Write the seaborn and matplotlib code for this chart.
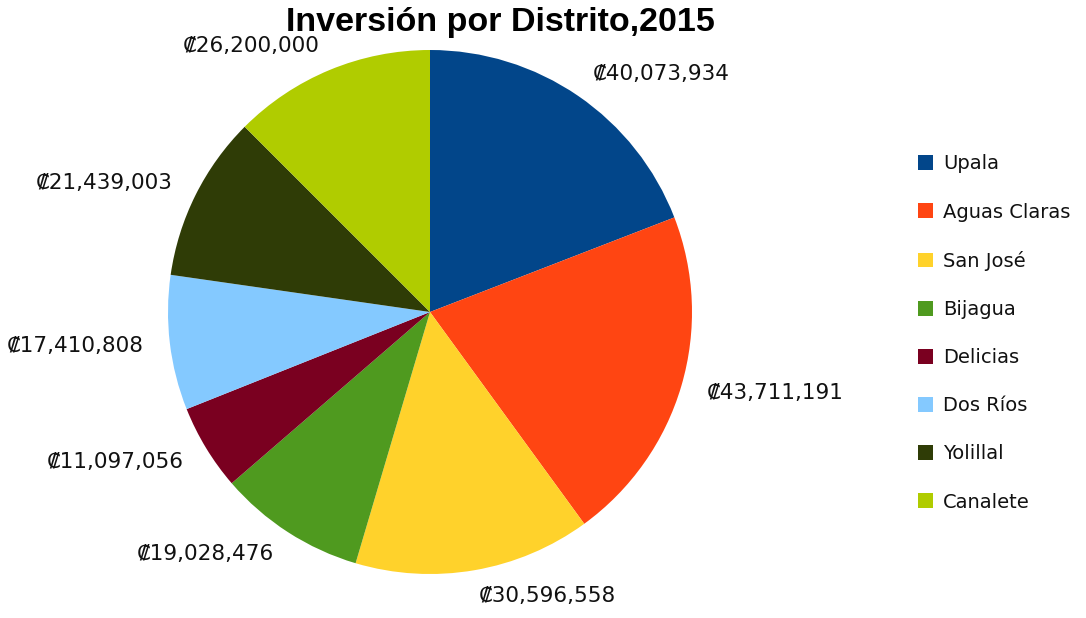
import matplotlib
matplotlib.use("Agg")
import matplotlib.pyplot as plt
import seaborn as sns

sns.set_theme(style="white")
plt.rcParams['font.family'] = ['DejaVu Sans']

districts = ['Upala', 'Aguas Claras', 'San José', 'Bijagua', 'Delicias',
             'Dos Ríos', 'Yolillal', 'Canalete']
inversion = [40073934, 43711191, 30596558, 19028476, 11097056,
             17410808, 21439003, 26200000]
colours = ['#02468A', '#FF4512', '#FFD22B', '#4F9A1F', '#7A0020',
           '#84C9FF', '#2F3C06', '#B0CC00']

value_labels = ['₡{:,}'.format(v) for v in inversion]

fig = plt.figure(figsize=(10.86, 6.18), dpi=100)
fig.patch.set_facecolor('white')

# pie centre ~ (430, 312) px, radius ~262 px
cx, cy, r = 430 / 1086, 1 - 312 / 618, 262
w, h = 2 * r / 1086, 2 * r / 618
ax = fig.add_axes([cx - w / 2, cy - h / 2, w, h])

wedges, texts = ax.pie(inversion, labels=value_labels, colors=colours,
                       startangle=90, counterclock=False, labeldistance=1.1,
                       wedgeprops={'linewidth': 0},
                       textprops={'fontsize': 15.5, 'color': '#111111'})
ax.set_xlim(-1, 1)
ax.set_ylim(-1, 1)
ax.set_aspect('auto')
ax.axis('off')

fig.text(500 / 1086, 1 - 23 / 618, 'Inversión por Distrito,2015',
         ha='center', va='center', fontsize=24.5, fontweight='bold',
         color='black', family=['Liberation Sans Narrow', 'Liberation Sans'])

fig.legend(wedges, districts, loc='center left',
           bbox_to_anchor=(900 / 1086, 1 - 333 / 618),
           frameon=False, fontsize=14, labelspacing=1.5,
           handlelength=0.8, handleheight=0.8, handletextpad=0.5,
           labelcolor='#111111')

fig.savefig('out.png', dpi=100, facecolor='white')
